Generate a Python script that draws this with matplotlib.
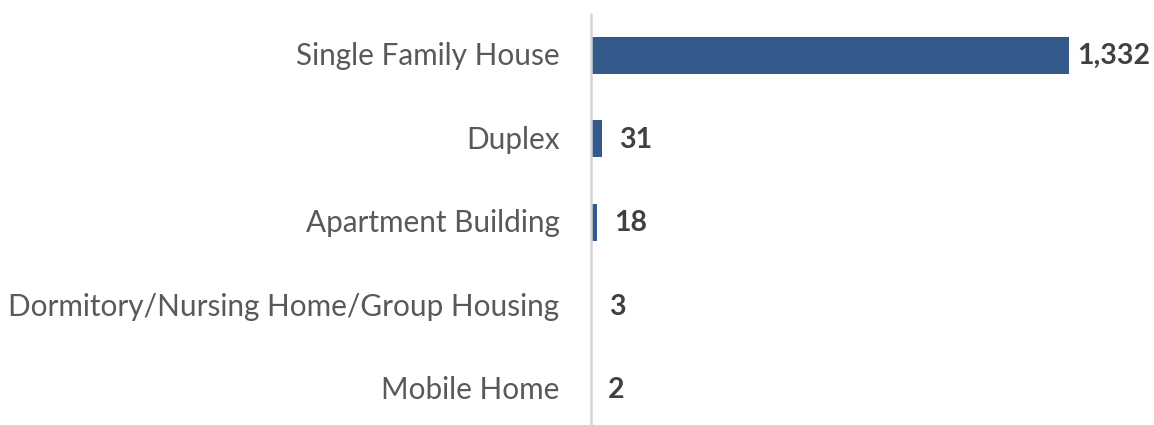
import matplotlib
matplotlib.use("Agg")
import matplotlib.pyplot as plt
from matplotlib.transforms import offset_copy

categories = ["Single Family House", "Duplex", "Apartment Building",
              "Dormitory/Nursing Home/Group Housing", "Mobile Home"]
values = [1332, 31, 18, 3, 2]
value_labels = ["1,332", "31", "18", "3", "2"]

W, H = 1154, 425
fig = plt.figure(figsize=(W / 100, H / 100), dpi=100)
x0, top_px = 590.5, 13
ax = fig.add_axes([x0 / W, 0, (W - x0) / W, (H - top_px) / H])

px_per_unit = 478 / 1332
ax.set_xlim(0, (W - x0) / px_per_unit)
sp = 83.5
ax.set_ylim(4 + 36 / sp, -42 / sp)

ypos = list(range(len(categories)))
ax.barh(ypos, values, height=37 / sp, color="#335a8a", zorder=1)

for s in ax.spines.values():
    s.set_visible(False)
ax.set_xticks([])
ax.set_yticks([])

font = "Lato"
for y, cat in zip(ypos, categories):
    t = offset_copy(ax.transData, fig=fig, x=-31, y=-1, units="dots")
    ax.text(0, y, cat, transform=t, ha="right", va="center",
            fontsize=21.4, color="#595959", family=font)

fig.canvas.draw()
renderer = fig.canvas.get_renderer()
for y, v, lab in zip(ypos, values, value_labels):
    t = offset_copy(ax.transData, fig=fig, x=17, y=-1, units="dots")
    txt = ax.text(v, y, lab, transform=t, ha="left", va="center",
                  fontsize=20.5, fontweight="bold", color="#404040", family=font)
    bb = txt.get_window_extent(renderer)
    if bb.x1 > W - 4:
        txt.set_transform(offset_copy(ax.transData, fig=fig,
                                      x=17 - (bb.x1 - (W - 4)), y=-1, units="dots"))

ax.plot([0, 0], [0, 1], transform=ax.transAxes, color="#d4d4d4", lw=1.8,
        zorder=5, clip_on=False, solid_capstyle="butt")

fig.savefig("out.png", dpi=100)
